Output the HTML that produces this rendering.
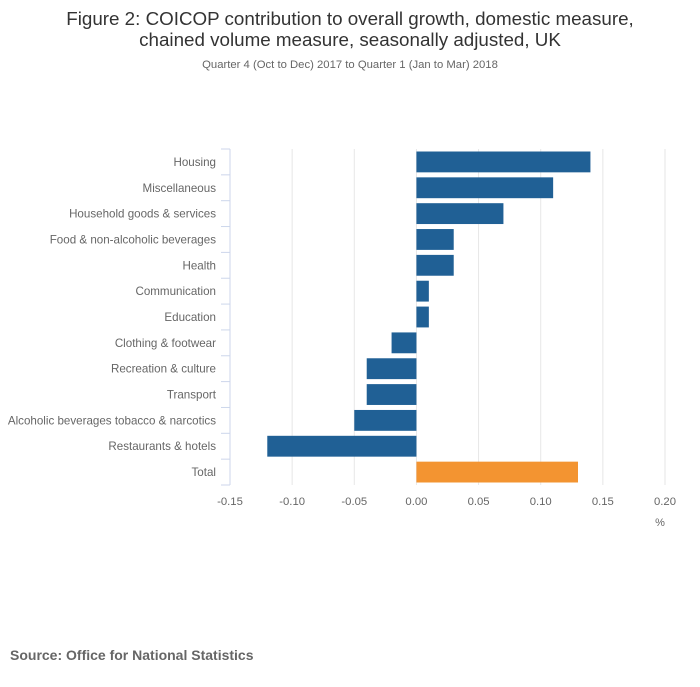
<!DOCTYPE html>
<html><head><meta charset="utf-8"><style>
body{margin:0;background:#fff;font-family:"Liberation Sans",sans-serif;}
svg text{font-family:"Liberation Sans",sans-serif;}
</style></head><body>
<svg width="700" height="682">
<text x="350" y="25" text-anchor="middle" font-size="18.8" fill="#333">Figure 2: COICOP contribution to overall growth, domestic measure,</text>
<text x="350" y="46" text-anchor="middle" font-size="18.8" fill="#333">chained volume measure, seasonally adjusted, UK</text>
<text x="350" y="68" text-anchor="middle" font-size="11.3" fill="#666">Quarter 4 (Oct to Dec) 2017 to Quarter 1 (Jan to Mar) 2018</text>
<g id="plot"></g>
<text x="660" y="526" text-anchor="middle" font-size="11" fill="#666">%</text>
<text x="10" y="660" font-size="14" font-weight="bold" fill="#666">Source: Office for National Statistics</text>
</svg>
<script>
const categories=["Housing","Miscellaneous","Household goods & services","Food & non-alcoholic beverages","Health","Communication","Education","Clothing & footwear","Recreation & culture","Transport","Alcoholic beverages tobacco & narcotics","Restaurants & hotels","Total"];
const values=[0.14,0.11,0.07,0.03,0.03,0.01,0.01,-0.02,-0.04,-0.04,-0.05,-0.12,0.13];
const ticks=[-0.15,-0.10,-0.05,0.00,0.05,0.10,0.15,0.20];
const tickLabels=["-0.15","-0.10","-0.05","0.00","0.05","0.10","0.15","0.20"];
const NS="http://www.w3.org/2000/svg";
const g=document.getElementById("plot");
const x0=230,x1=665,yTop=149,yBot=485;
const xs=v=>x0+(v-(-0.15))/(0.35)*(x1-x0);
const band=(yBot-yTop)/categories.length;
const ys=i=>yTop+i*band;
function mk(t,a){const e=document.createElementNS(NS,t);for(const k in a)e.setAttribute(k,a[k]);g.appendChild(e);return e;}
ticks.forEach((t,i)=>{
 if(i>0){const l=mk("line",{x1:xs(t),x2:xs(t),y1:yTop,y2:yBot,stroke:"#e6e6e6"});
 
 }
 const tx=mk("text",{x:xs(t),y:yBot+20,"text-anchor":"middle","font-size":"11.3",fill:"#666"});
 tx.textContent=tickLabels[i];
 
 
});
const ax=mk("line",{x1:x0,x2:x0,y1:yTop,y2:yBot,stroke:"#ccd6eb"});


for(let i=0;i<=categories.length;i++){
 const tk=mk("line",{x1:x0-9,x2:x0,y1:ys(i),y2:ys(i),stroke:"#ccd6eb"});
 
 
}
categories.forEach((c,i)=>{
 const v=values[i];
 const a=Math.min(xs(0),xs(v)),w=Math.abs(xs(v)-xs(0));
 const r=mk("rect",{x:a,y:ys(i)+2.5,width:w,height:band-5,fill:c==="Total"?"#f39431":"#206095"});
 
 
 const t=mk("text",{x:216,y:ys(i)+band/2+4,"text-anchor":"end","font-size":"11.6",fill:"#666"});
 t.textContent=c;
 
 
});
</script>
</body></html>
